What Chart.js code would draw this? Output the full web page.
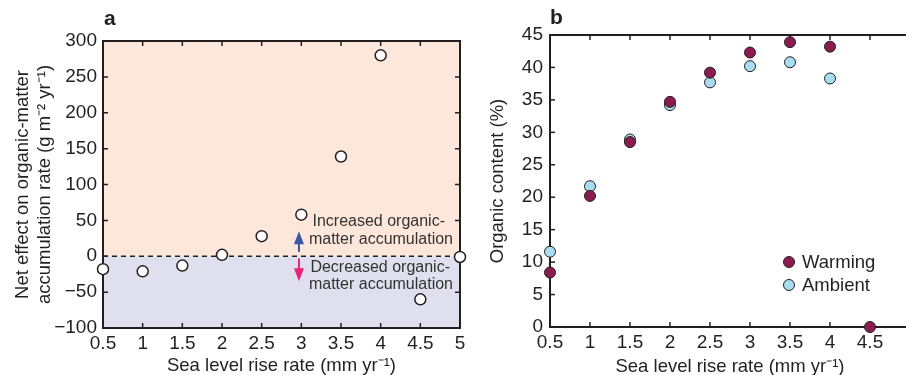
<!DOCTYPE html>
<html lang="en">
<head>
    <meta charset="UTF-8">
    <title>Organic matter vs sea level rise</title>
    <style>
        body {
            margin: 0;
            width: 906px;
            height: 375px;
            overflow: hidden;
            position: relative;
            background: #ffffff;
            font-family: "Liberation Sans", Arial, sans-serif;
        }
        .panel {
            position: absolute;
            top: 0;
            height: 375px;
        }
        #boxA { left: 0; width: 470px; }
        #boxB { left: 470px; width: 500px; }
        .letter {
            position: absolute;
            font-weight: bold;
            font-size: 21px;
            color: #231f20;
        }
    </style>
    <script src="https://cdn.jsdelivr.net/npm/chart.js"></script>
</head>
<body>
    <div class="panel" id="boxA"><canvas id="chartA" width="470" height="375"></canvas></div>
    <div class="panel" id="boxB"><canvas id="chartB" width="500" height="375"></canvas></div>
    <div class="letter" style="left:104px;top:6px;">a</div>
    <div class="letter" style="left:550px;top:5px;">b</div>

    <script>
        // panel a data
        var ratesA = [0.5, 1, 1.5, 2, 2.5, 3, 3.5, 4, 4.5, 5];
        var netEffect = [-18, -21, -13, 2, 28, 58, 139, 280, -60, -1];

        // panel b data
        var ratesB = [0.5, 1, 1.5, 2, 2.5, 3, 3.5, 4, 4.5];
        var warming = [8.4, 20.2, 28.5, 34.7, 39.2, 42.3, 43.9, 43.2, 0];
        var ambient = [11.6, 21.7, 28.9, 34.2, 37.7, 40.2, 40.8, 38.3, null];

        var ink = '#231f20';
        var fontFam = '"Liberation Sans", Arial, sans-serif';

        function pts(xs, ys) {
            var out = [];
            for (var i = 0; i < xs.length; i++) {
                if (ys[i] !== null) out.push({x: xs[i], y: ys[i]});
            }
            return out;
        }

        // box frame with inward ticks
        var framePlugin = {
            id: 'frame',
            beforeDatasetsDraw: function(chart, args, opts) {
                var c = chart.ctx, a = chart.chartArea;
                var xs = chart.scales.x, ys = chart.scales.y;
                c.save();
                c.strokeStyle = ink;
                c.lineWidth = 1.5;
                var t = 5;
                xs.ticks.forEach(function(tk) {
                    var px = xs.getPixelForValue(tk.value);
                    c.beginPath();
                    c.moveTo(px, a.bottom); c.lineTo(px, a.bottom - t);
                    c.moveTo(px, a.top); c.lineTo(px, a.top + t);
                    c.stroke();
                });
                ys.ticks.forEach(function(tk) {
                    var py = ys.getPixelForValue(tk.value);
                    c.beginPath();
                    c.moveTo(a.left, py); c.lineTo(a.left + t, py);
                    if (opts.rightTicks !== false) {
                        c.moveTo(a.right, py); c.lineTo(a.right - t, py);
                    }
                    c.stroke();
                });
                c.lineWidth = 2;
                c.strokeRect(a.left, a.top, a.right - a.left, a.bottom - a.top);
                c.restore();
            }
        };

        // shaded halves, arrows and notes for panel a
        var zonePlugin = {
            id: 'zones',
            beforeDraw: function(chart) {
                var c = chart.ctx, a = chart.chartArea;
                var y0 = chart.scales.y.getPixelForValue(0);
                c.save();
                c.fillStyle = '#fde6da';
                c.fillRect(a.left, a.top, a.right - a.left, y0 - a.top);
                c.fillStyle = '#dfdfee';
                c.fillRect(a.left, y0, a.right - a.left, a.bottom - y0);
                c.restore();
            },
            afterDatasetsDraw: function(chart) {
                var c = chart.ctx;
                var xs = chart.scales.x, ys = chart.scales.y;
                var ax = xs.getPixelForValue(2.97);
                function arrow(from, to, col) {
                    var p1 = ys.getPixelForValue(from), p2 = ys.getPixelForValue(to);
                    var dir = p2 < p1 ? 1 : -1;
                    c.strokeStyle = col; c.fillStyle = col; c.lineWidth = 2;
                    c.beginPath(); c.moveTo(ax, p1); c.lineTo(ax, p2 + dir * 10); c.stroke();
                    c.beginPath();
                    c.moveTo(ax, p2);
                    c.lineTo(ax - 5, p2 + dir * 13);
                    c.lineTo(ax + 5, p2 + dir * 13);
                    c.closePath(); c.fill();
                }
                c.save();
                arrow(6, 35, '#3b57a6');
                arrow(-3, -35, '#e8217a');
                c.fillStyle = '#333333';
                c.font = '16px ' + fontFam;
                c.textAlign = 'right';
                c.textBaseline = 'middle';
                c.fillText('Increased organic-', 445, 222);
                c.fillText('matter accumulation', 453, 240);
                c.fillText('Decreased organic-', 450, 268);
                c.fillText('matter accumulation', 453, 285);
                c.restore();
            }
        };

        // legend inside panel b
        var legendPlugin = {
            id: 'legendB',
            afterDraw: function(chart) {
                var c = chart.ctx;
                var items = [['Warming', '#8c1c50', 262], ['Ambient', '#a8dcf0', 285]];
                c.save();
                c.font = '18.5px ' + fontFam;
                c.textBaseline = 'middle';
                items.forEach(function(it) {
                    c.beginPath();
                    c.arc(319, it[2], 5.5, 0, Math.PI * 2);
                    c.fillStyle = it[1]; c.fill();
                    c.lineWidth = 1; c.strokeStyle = ink; c.stroke();
                    c.fillStyle = ink;
                    c.fillText(it[0], 332, it[2] + 1);
                });
                c.restore();
            }
        };

        function minusFmt(v) {
            return v < 0 ? '\u2212' + Math.abs(v) : String(v);
        }
        function plainFmt(v) {
            return String(v);
        }
        function noPad(s) {
            s.paddingLeft = 0;
            s.paddingRight = 0;
        }

        var tickFont = {family: fontFam, size: 19};
        var titleFont = {family: fontFam, size: 18.5};
        var xTitle = 'Sea level rise rate (mm yr\u207B\u00B9)';

        new Chart(document.getElementById('chartA'), {
            type: 'scatter',
            data: {
                datasets: [
                    {
                        label: 'Net effect',
                        data: pts(ratesA, netEffect),
                        backgroundColor: '#ffffff',
                        borderColor: ink,
                        borderWidth: 1.5,
                        pointRadius: 5.5,
                        clip: false
                    },
                    {
                        type: 'line',
                        label: 'zero',
                        data: [{x: 0.5, y: 0}, {x: 5, y: 0}],
                        borderColor: ink,
                        borderWidth: 1.3,
                        borderDash: [5, 4],
                        pointRadius: 0,
                        fill: false
                    }
                ]
            },
            options: {
                responsive: false,
                animation: false,
                layout: {padding: {top: 41, right: 10, left: 0, bottom: 0}},
                plugins: {legend: {display: false}, tooltip: {enabled: false}},
                scales: {
                    x: {
                        type: 'linear', min: 0.5, max: 5,
                        grid: {display: false, drawTicks: false}, border: {display: false},
                        afterFit: function(s) { s.height = 47; noPad(s); },
                        ticks: {stepSize: 0.5, color: ink, font: tickFont, padding: 4, maxRotation: 0, callback: plainFmt},
                        title: {display: true, text: xTitle, color: ink, font: titleFont, padding: {top: 0, bottom: -2}}
                    },
                    y: {
                        min: -100, max: 300,
                        grid: {display: false, drawTicks: false}, border: {display: false},
                        afterFit: function(s) { s.width = 103; },
                        ticks: {stepSize: 50, color: ink, font: tickFont, padding: 6, callback: minusFmt},
                        title: {
                            display: true,
                            text: ['Net effect on organic-matter', 'accumulation rate (g m\u207B\u00B2 yr\u207B\u00B9)'],
                            color: ink, font: titleFont, padding: {top: 12, bottom: 0}
                        }
                    }
                }
            },
            plugins: [zonePlugin, framePlugin]
        });

        new Chart(document.getElementById('chartB'), {
            type: 'scatter',
            data: {
                datasets: [
                    {
                        label: 'Warming',
                        data: pts(ratesB, warming),
                        backgroundColor: '#8c1c50',
                        borderColor: ink,
                        borderWidth: 1,
                        pointRadius: 5.5,
                        clip: false
                    },
                    {
                        label: 'Ambient',
                        data: pts(ratesB, ambient),
                        backgroundColor: '#a8dcf0',
                        borderColor: ink,
                        borderWidth: 1,
                        pointRadius: 5.5,
                        clip: false
                    }
                ]
            },
            options: {
                responsive: false,
                animation: false,
                layout: {padding: {top: 35, right: 60, left: 0, bottom: 0}},
                plugins: {legend: {display: false}, tooltip: {enabled: false}, frame: {rightTicks: false}},
                scales: {
                    x: {
                        type: 'linear', min: 0.5, max: 5,
                        grid: {display: false, drawTicks: false}, border: {display: false},
                        afterFit: function(s) { s.height = 48; noPad(s); },
                        ticks: {stepSize: 0.5, color: ink, font: tickFont, padding: 4, maxRotation: 0,
                            callback: function(v) { return v > 4.5 ? '' : String(v); }},
                        title: {display: true, text: xTitle, color: ink, font: titleFont, padding: {top: 0, bottom: -3}}
                    },
                    y: {
                        min: 0, max: 45,
                        grid: {display: false, drawTicks: false}, border: {display: false},
                        afterFit: function(s) { s.width = 80; },
                        ticks: {stepSize: 5, color: ink, font: tickFont, padding: 7},
                        title: {display: true, text: 'Organic content (%)', color: ink, font: titleFont, padding: {top: 17, bottom: 0}}
                    }
                }
            },
            plugins: [framePlugin, legendPlugin]
        });
    </script>
</body>
</html>
